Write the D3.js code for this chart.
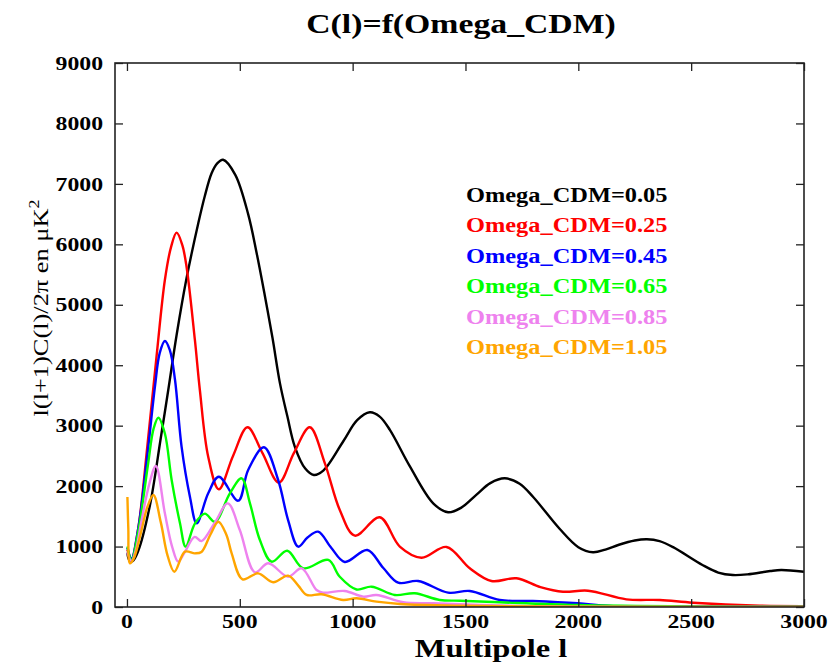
<!DOCTYPE html>
<html><head><meta charset="utf-8">
<script src="https://cdn.jsdelivr.net/npm/d3@7"></script>
<style>body{margin:0;background:#fff}svg{display:block}</style>
</head><body>
<script>
// ---- data (multipole l, l(l+1)C(l)/2pi in microK^2) ----
const titleText = "C(l)=f(Omega_CDM)";
const xLabel = "Multipole l";
const xTicks = [0, 500, 1000, 1500, 2000, 2500, 3000];
const yTicks = [0, 1000, 2000, 3000, 4000, 5000, 6000, 7000, 8000, 9000];
const seriesNames = ["Omega_CDM=0.05","Omega_CDM=0.25","Omega_CDM=0.45","Omega_CDM=0.65","Omega_CDM=0.85","Omega_CDM=1.05"];
const seriesColors = ["#000000","#ff0000","#0000ff","#00ff00","#ee82ee","#ffa500"];

const cdm005 = [[2,900],[10,780],[25,760],[50,930],[100,1650],[150,2800],[183,3590],[220,4500],[264,5438],[316,6348],[345,6800],[375,7176],[400,7340],[426,7400],[480,7150],[537,6500],[575,5850],[611,5150],[645,4450],[678,3700],[711,3150],[744,2650],[790,2290],[828,2184],[870,2256],[960,2750],[1020,3090],[1076,3221],[1120,3150],[1165,2930],[1253,2330],[1357,1715],[1423,1567],[1480,1640],[1549,1860],[1610,2050],[1674,2129],[1740,2040],[1800,1820],[1918,1290],[2000,990],[2065,905],[2120,950],[2180,1030],[2250,1100],[2304,1120],[2360,1090],[2420,990],[2550,695],[2620,570],[2685,529],[2750,540],[2850,595],[2899,612],[3000,584]];
const cdm025 = [[2,950],[20,790],[50,1300],[90,2650],[131,4141],[168,5410],[195,5950],[220,6193],[245,5990],[264,5630],[301,4418],[323,3590],[360,2487],[407,1947],[470,2500],[534,2973],[600,2550],[673,2057],[740,2550],[810,2973],[877,2377],[943,1605],[1010,1180],[1120,1484],[1209,1000],[1305,816],[1416,993],[1519,640],[1615,430],[1726,475],[1832,330],[1932,253],[2043,270],[2213,127],[2361,116],[2508,71],[2803,22],[3000,15]];
const cdm045 = [[2,980],[20,800],[50,1300],[90,2500],[124,3645],[145,4200],[168,4401],[190,4250],[213,3756],[242,2652],[279,1825],[309,1385],[360,1881],[407,2156],[493,1759],[537,2267],[607,2642],[670,2101],[714,1439],[759,998],[800,1150],[847,1246],[905,980],[965,745],[1065,943],[1135,650],[1202,402],[1290,430],[1423,237],[1519,265],[1652,116],[1798,99],[1997,61],[2139,17],[2500,8],[3000,5]];
const cdm065 = [[2,1000],[20,780],[50,1250],[94,2377],[118,2950],[139,3132],[168,2870],[198,2101],[235,1385],[260,998],[301,1380],[345,1545],[390,1411],[456,1881],[508,2129],[545,1715],[589,1108],[641,750],[710,931],[781,640],[892,778],[943,500],[1017,290],[1084,336],[1187,199],[1275,227],[1386,116],[1475,104],[1652,78],[1997,33],[2500,10],[3000,5]];
const cdm085 = [[2,900],[20,760],[40,950],[65,1439],[100,2050],[128,2333],[168,1550],[200,1000],[227,750],[255,900],[300,1160],[330,1090],[390,1400],[447,1715],[500,1274],[567,574],[626,723],[714,501],[774,640],[840,281],[868,237],[965,265],[1047,171],[1106,199],[1224,78],[1357,61],[1700,20],[2000,6],[3000,2]];
const cdm105 = [[2,1820],[6,1300],[13,723],[30,800],[60,1200],[90,1650],[117,1853],[150,1400],[180,850],[210,584],[257,915],[301,888],[330,910],[370,1200],[405,1411],[440,1200],[464,888],[512,458],[581,557],[648,409],[714,518],[760,350],[796,199],[862,210],[958,116],[1017,144],[1106,88],[1209,50],[1500,20],[2000,3],[3000,1]];
const seriesData = [cdm005, cdm025, cdm045, cdm065, cdm085, cdm105];

// ---- drawing ----
const W = 831, H = 667;
const svg = d3.select("body").append("svg").attr("width", W).attr("height", H);
svg.append("rect").attr("width", W).attr("height", H).attr("fill", "#fff");

const x = d3.scaleLinear().domain([-53, 3000]).range([115, 804]);
const y = d3.scaleLinear().domain([0, 9000]).range([607, 63]);
const serif = "'Liberation Serif','Times New Roman',serif";
const stretch = 1.25;

// curves (clipped to frame)
svg.append("clipPath").attr("id","clip").append("rect")
  .attr("x", 115).attr("y", 63).attr("width", 689).attr("height", 544);
const line = d3.line().x(d => x(d[0])).y(d => y(d[1])).curve(d3.curveCatmullRom.alpha(0.5));
svg.append("g").attr("clip-path","url(#clip)")
  .selectAll("path").data(seriesData).join("path")
  .attr("d", line).attr("fill","none")
  .attr("stroke", (d,i) => seriesColors[i]).attr("stroke-width", 2.4)
  .attr("stroke-linejoin","round");

// axes: ticks inward on all four sides
const axisColor = "#222";
function styleAxis(g){
  g.select(".domain").remove();
  g.selectAll(".tick line").attr("stroke", axisColor).attr("stroke-width", 1.3);
  g.selectAll("text").remove();
}
svg.append("g").attr("transform","translate(0,607)")
  .call(d3.axisBottom(x).tickValues(xTicks).tickSize(-8)).call(styleAxis);
svg.append("g").attr("transform","translate(0,63)")
  .call(d3.axisTop(x).tickValues(xTicks).tickSize(-8)).call(styleAxis);
svg.append("g").attr("transform","translate(115,0)")
  .call(d3.axisLeft(y).tickValues(yTicks).tickSize(-8)).call(styleAxis);
svg.append("g").attr("transform","translate(804,0)")
  .call(d3.axisRight(y).tickValues(yTicks).tickSize(-8)).call(styleAxis);

svg.append("rect").attr("x",115).attr("y",63).attr("width",689).attr("height",544)
  .attr("fill","none").attr("stroke",axisColor).attr("stroke-width",1.6);

// tick labels
svg.append("g").selectAll("text").data(yTicks).join("text")
  .attr("transform", d => `translate(103,${y(d)}) scale(${stretch},1)`)
  .attr("dy","0.35em").attr("text-anchor","end")
  .attr("font-family", serif).attr("font-weight","bold").attr("font-size",19)
  .text(d => d);
svg.append("g").selectAll("text").data(xTicks).join("text")
  .attr("transform", d => `translate(${x(d)},628) scale(${stretch},1)`)
  .attr("text-anchor","middle")
  .attr("font-family", serif).attr("font-weight","bold").attr("font-size",19)
  .text(d => d);

// title and axis labels
svg.append("text").attr("transform", `translate(461,33) scale(${stretch},1)`)
  .attr("text-anchor","middle").attr("font-family", serif).attr("font-weight","bold")
  .attr("font-size",27).text(titleText);
svg.append("text").attr("transform", `translate(491,657) scale(1.25,1)`)
  .attr("text-anchor","middle").attr("font-family", serif).attr("font-weight","bold")
  .attr("font-size",26).text(xLabel);
const yl = svg.append("text").attr("transform", `translate(48,308) rotate(-90) scale(1.2,1)`)
  .attr("text-anchor","middle").attr("font-family", serif).attr("font-size",22);
yl.append("tspan").text("l(l+1)C(l)/2\u03c0 en \u03bcK");
yl.append("tspan").attr("dy",-9).attr("font-size",15).text("2");

// legend
svg.append("g").selectAll("text").data(seriesNames).join("text")
  .attr("transform", (d,i) => `translate(466,${202 + i*30.4}) scale(1.22,1)`)
  .attr("font-family", serif).attr("font-weight","bold").attr("font-size",20)
  .attr("fill", (d,i) => seriesColors[i]).text(d => d);
</script>
</body></html>
